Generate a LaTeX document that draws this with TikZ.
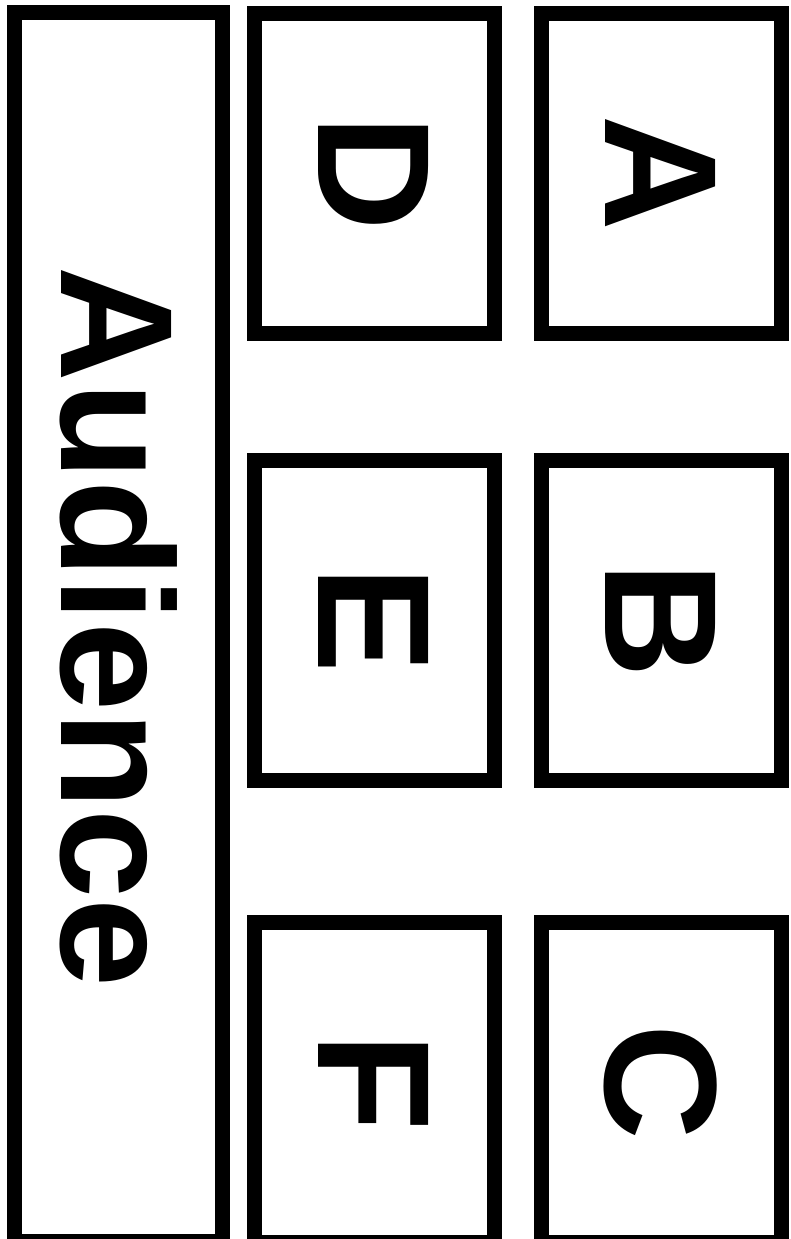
\documentclass[tikz,border=0pt]{standalone}
\usepackage{fontspec}
\setmainfont{Liberation Sans}
\usetikzlibrary{positioning}
\newcommand{\downtext}[1]{\rotatebox{-90}{#1}}

\begin{document}
\begin{tikzpicture}[
  card/.style={draw, line width=7.5pt, minimum width=120pt, minimum height=160pt,
               inner sep=0pt, font=\fontsize{80pt}{90pt}\selectfont\bfseries},
  audbox/.style={card, minimum width=104pt, minimum height=614.5pt}
]
\useasboundingbox (0,0) rectangle (395.5pt,-619.5pt);
\node[audbox] (aud) at (59.25pt,-313.5pt) {\downtext{Audience}};
\node[card] (d) at (187pt,-86.5pt) {\downtext{D}};
\node[card, right=16pt of d] (a) {\downtext{A}};
\node[card, below=56pt of d] (e) {\downtext{E}};
\node[card, right=16pt of e] (b) {\downtext{B}};
\node[card, below=63.5pt of e] (f) {\downtext{F}};
\node[card, right=16pt of f] (c) {\downtext{C}};
\end{tikzpicture}
\end{document}
